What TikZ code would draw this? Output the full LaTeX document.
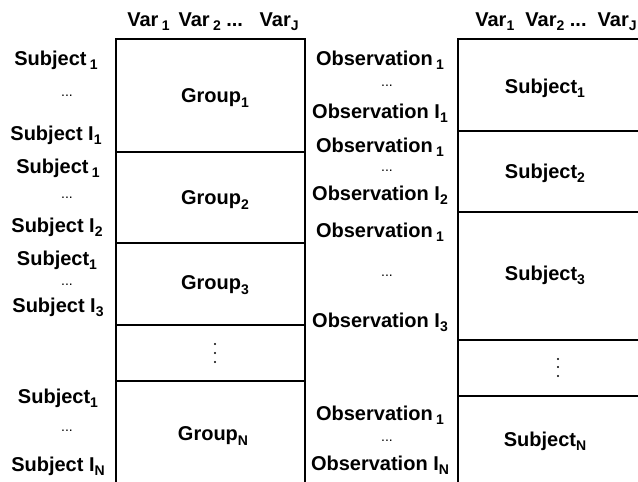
\documentclass[tikz,border=0pt]{standalone}
\usepackage{fontspec}
\setmainfont{Liberation Sans}
\newcommand\sbs[1]{\raisebox{-0.4ex}{\fontsize{14}{14}\selectfont #1}}
\tikzset{
  lab/.style={font=\bfseries\fontsize{20}{20}\selectfont, inner sep=0pt, anchor=center},
  dts/.style={font=\mdseries\fontsize{14}{14}\selectfont, inner sep=0pt, anchor=center},
  frame/.style={line width=1.2pt},
  vdot/.style={circle, fill, inner sep=0pt, minimum size=2.2pt}
}
\begin{document}
\begin{tikzpicture}[x=1pt,y=-1pt]
\useasboundingbox (0,0) rectangle (638,482);
% left box
\draw[frame] (116,482) -- (116,39) -- (305,39) -- (305,482);
\foreach \yy in {152,243,325,381} \draw[frame] (116,\yy) -- (305,\yy);
% right box
\draw[frame] (640,39) -- (458,39) -- (458,482);
\foreach \yy in {131,212,340,396} \draw[frame] (458,\yy) -- (640,\yy);
% headers
\node[lab] (hl) at (213,22) {Var\,\sbs{1}\,\ Var\,\sbs{2}\ ...\ \ \ Var\sbs{J}};
\node[lab] (hr) at (556,22) {Var\sbs{1}\ \ Var\sbs{2}\ ...\ \ Var\sbs{J}};
% left labels
\node[lab] (s11) at (56,60) {Subject\,\sbs{1}};
\node[dts] (d1) at (67,96) {...};
\node[lab] (s1n) at (56,135) {Subject I\sbs{1}};
\node[lab] (s21) at (58,168) {Subject\,\sbs{1}};
\node[dts] (d2) at (67,198) {...};
\node[lab] (s2n) at (57,227) {Subject I\sbs{2}};
\node[lab] (s31) at (57,260) {Subject\sbs{1}};
\node[dts] (d3) at (67,285) {...};
\node[lab] (s3n) at (58,307) {Subject I\sbs{3}};
\node[lab] (sN1) at (58,398) {Subject\sbs{1}};
\node[dts] (dN) at (67,431) {...};
\node[lab] (sNn) at (58,466) {Subject I\sbs{N}};
% groups
\node[lab] (g1) at (215,98) {Group\sbs{1}};
\node[lab] (g2) at (215,200) {Group\sbs{2}};
\node[lab] (g3) at (215,285) {Group\sbs{3}};
\node[vdot] (gd1) at (215,344) {};
\node[vdot] (gd2) at (215,353) {};
\node[vdot] (gd3) at (215,362) {};
\node[lab] (gN) at (213,436) {Group\sbs{N}};
% middle labels
\node[lab] (o11) at (380,60) {Observation\,\sbs{1}};
\node[dts] (od1) at (387,86) {...};
\node[lab] (o1n) at (380,113) {Observation I\sbs{1}};
\node[lab] (o21) at (380,147) {Observation\,\sbs{1}};
\node[dts] (od2) at (387,171) {...};
\node[lab] (o2n) at (380,195) {Observation I\sbs{2}};
\node[lab] (o31) at (380,232) {Observation\,\sbs{1}};
\node[dts] (od3) at (387,276) {...};
\node[lab] (o3n) at (380,322) {Observation I\sbs{3}};
\node[lab] (oN1) at (380,415) {Observation\,\sbs{1}};
\node[dts] (odN) at (387,441) {...};
\node[lab] (oNn) at (380,465) {Observation I\sbs{N}};
% right labels
\node[lab] (r1) at (545,88) {Subject\sbs{1}};
\node[lab] (r2) at (545,173) {Subject\sbs{2}};
\node[lab] (r3) at (545,275) {Subject\sbs{3}};
\node[vdot] (rd1) at (558,359) {};
\node[vdot] (rd2) at (558,367) {};
\node[vdot] (rd3) at (558,376) {};
\node[lab] (rN) at (545,441) {Subject\sbs{N}};
\end{tikzpicture}
\end{document}
